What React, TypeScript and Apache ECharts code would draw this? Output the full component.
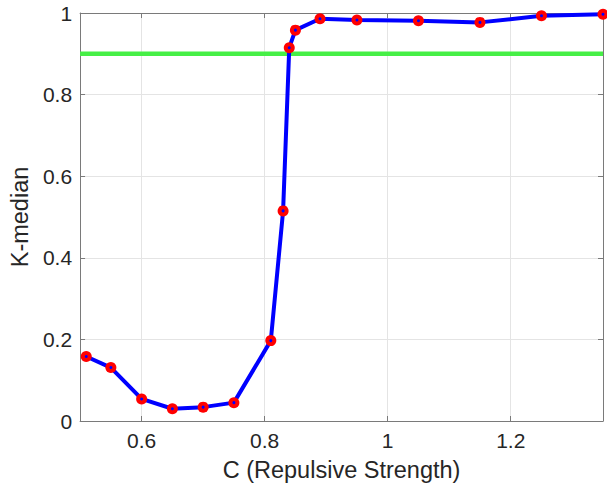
import React, { useEffect, useRef } from "react";
import * as echarts from "echarts";

const cValues = [0.51, 0.55, 0.6, 0.65, 0.7, 0.75, 0.81, 0.83, 0.84, 0.85, 0.89, 0.95, 1.05, 1.15, 1.25, 1.35];
const kMedian = [0.158, 0.131, 0.054, 0.03, 0.034, 0.045, 0.197, 0.515, 0.915, 0.958, 0.986, 0.983, 0.981, 0.977, 0.993, 0.997];
const threshold = 0.9;
const xTicks = [0.6, 0.8, 1.0, 1.2];
const xMin = 0.5;
const xMax = 1.35;

const FONT = "Liberation Sans, Arial, Helvetica, sans-serif";
const AXIS_COLOR = "#7a7a7a";
const GRID_COLOR = "#e4e4e4";
const TEXT_COLOR = "#262626";

export default function App() {
  const ref = useRef<HTMLDivElement>(null);
  useEffect(() => {
    if (!ref.current) return;
    const chart = echarts.init(ref.current, undefined, { renderer: "svg" });
    const commonX = {
      type: "value" as const,
      min: xMin,
      max: xMax,
      axisLine: { show: true, onZero: false, lineStyle: { color: AXIS_COLOR, width: 1 } },
      axisTick: { show: true, inside: true, length: 5, customValues: xTicks, lineStyle: { color: AXIS_COLOR } },
      splitLine: { show: false },
    };
    const commonY = {
      type: "value" as const,
      min: 0,
      max: 1,
      interval: 0.2,
      axisLine: { show: true, onZero: false, lineStyle: { color: AXIS_COLOR, width: 1 } },
      axisTick: { show: true, inside: true, length: 5, lineStyle: { color: AXIS_COLOR } },
      splitLine: { show: false },
    };
    const points = cValues.map((c, i) => [c, kMedian[i]]);
    chart.setOption({
      animation: false,
      backgroundColor: "#ffffff",
      grid: { left: 76, right: 4, top: 13, bottom: 66, containLabel: false },
      xAxis: [
        {
          ...commonX,
          position: "bottom",
          name: "C (Repulsive Strength)",
          nameLocation: "middle",
          nameGap: 37,
          nameTextStyle: { fontSize: 23.5, color: TEXT_COLOR, fontFamily: FONT },
          axisLabel: {
            show: true,
            customValues: xTicks,
            margin: 9,
            fontSize: 21,
            color: TEXT_COLOR,
            fontFamily: FONT,
          },
          splitLine: { show: true, lineStyle: { color: GRID_COLOR, width: 1 } },
        },
        { ...commonX, position: "top", axisLabel: { show: false } },
      ],
      yAxis: [
        {
          ...commonY,
          position: "left",
          name: "K-median",
          nameLocation: "middle",
          nameGap: 36,
          nameTextStyle: { fontSize: 23.5, color: TEXT_COLOR, fontFamily: FONT },
          axisLabel: { show: true, margin: 8, fontSize: 21, color: TEXT_COLOR, fontFamily: FONT },
          splitLine: { show: true, lineStyle: { color: GRID_COLOR, width: 1 } },
        },
        { ...commonY, position: "right", axisLabel: { show: false } },
      ],
      series: [
        {
          type: "line",
          xAxisIndex: 0,
          yAxisIndex: 0,
          data: [[xMin, threshold], [xMax, threshold]],
          symbol: "none",
          lineStyle: { color: "#46ef46", width: 4.5 },
          silent: true,
          z: 2,
        },
        {
          type: "line",
          xAxisIndex: 0,
          yAxisIndex: 0,
          data: points,
          symbol: "none",
          lineStyle: { color: "#0000ff", width: 4 },
          z: 3,
        },
        {
          type: "scatter",
          xAxisIndex: 0,
          yAxisIndex: 0,
          data: points,
          symbol: "circle",
          symbolSize: 11,
          itemStyle: { color: "#ff0000", opacity: 1 },
          z: 4,
        },
        {
          type: "scatter",
          xAxisIndex: 0,
          yAxisIndex: 0,
          data: points,
          symbol: "circle",
          symbolSize: 3,
          itemStyle: { color: "#0000ff", opacity: 1 },
          z: 5,
        },
      ],
    });
    return () => chart.dispose();
  }, []);
  return (
    <div
      ref={ref}
      style={{ position: "fixed", left: 0, top: 0, width: 607, height: 487 }}
    />
  );
}
